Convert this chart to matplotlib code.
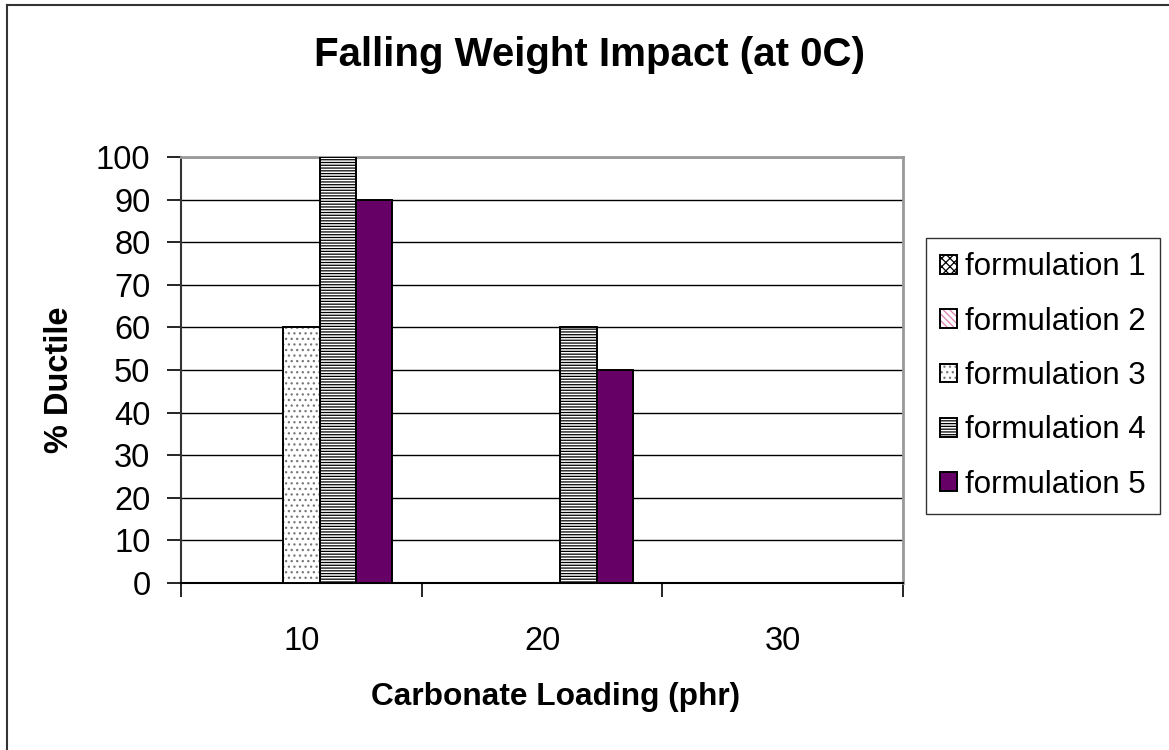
import matplotlib
matplotlib.use('Agg')
import matplotlib.pyplot as plt
from matplotlib.lines import Line2D
import numpy as np

plt.rcParams['font.family'] = ['Liberation Sans', 'DejaVu Sans']
plt.rcParams['hatch.linewidth'] = 0.9

# Data
loadings = ['10', '20', '30']
series_names = ['formulation 1', 'formulation 2', 'formulation 3',
                'formulation 4', 'formulation 5']
f1 = [0, 0, 0]
f2 = [0, 0, 0]
f3 = [60, 0, 0]
f4 = [100, 60, 0]
f5 = [90, 50, 0]
y_ticks = list(range(0, 101, 10))

# styles: (face, hatch, hatch colour)
styles = [
    ('white', 'xxxx', 'black'),
    ('white', '\\\\\\\\\\', '#e07fb0'),
    ('white', '...', '#777777'),
    ('white', '------', 'black'),
    ('#660066', None, '#660066'),
]

fig = plt.figure(figsize=(11.69, 7.5), dpi=100)
ax = fig.add_axes([181 / 1169, 1 - 583 / 750, 722 / 1169, 426 / 750])

x = np.arange(len(loadings))
width = 0.151
handles = []
for i, (name, vals) in enumerate(zip(series_names, [f1, f2, f3, f4, f5])):
    face, hatch, hcol = styles[i]
    pos = x + (i - 2) * width
    # hatch drawn in its own colour, then a black outline on top
    fill = ax.bar(pos, vals, width, color=face, hatch=hatch,
                  edgecolor=hcol, linewidth=0, zorder=3)
    edge = ax.bar(pos, vals, width, fill=False, edgecolor='black',
                  linewidth=1.4, zorder=4)
    handles.append((fill, edge))

ax.set_xlim(-0.5, 2.5)
ax.set_ylim(0, 100)
ax.set_yticks(y_ticks)
ax.set_xticks(x)
ax.set_xticklabels(loadings)
ax.set_xticks([-0.5, 0.5, 1.5, 2.5], minor=True)
ax.tick_params(axis='x', which='major', length=0, labelsize=23.5, pad=31)
ax.tick_params(axis='x', which='minor', length=10, width=1.2, direction='out')
ax.tick_params(axis='y', length=10, width=1.2, direction='out', labelsize=23.5, pad=12)
ax.grid(axis='y', color='black', linewidth=1, zorder=0)
ax.set_axisbelow(True)

for side in ['top', 'right']:
    ax.spines[side].set_color('#999999')
    ax.spines[side].set_linewidth(2)
ax.spines['left'].set_color('#333333')
ax.spines['left'].set_linewidth(1.5)
ax.spines['bottom'].set_linewidth(1.5)

ax.set_xlabel('Carbonate Loading (phr)', fontsize=22.8, fontweight='bold', va='center')
ax.xaxis.set_label_coords(0.519, -0.268)
ax.set_ylabel('% Ductile', fontsize=23.5, fontweight='bold', va='center')
ax.yaxis.set_label_coords(-0.168, 0.476)

fig.text(590 / 1169, 1 - 55 / 750, 'Falling Weight Impact (at 0C)',
         fontsize=29, fontweight='bold', ha='center', va='center')

leg = ax.legend(handles, series_names, loc='center left',
                bbox_to_anchor=(926 / 1169, 1 - 376 / 750),
                bbox_transform=fig.transFigure, fontsize=22.5, frameon=True,
                fancybox=False, borderaxespad=0, handlelength=0.55,
                handleheight=0.55, handletextpad=0.25, labelspacing=0.78,
                borderpad=0.45)
leg.get_frame().set_edgecolor('black')
leg.get_frame().set_linewidth(1)

# chart frame (only left and top edges show)
fig.add_artist(Line2D([7 / 1169, 7 / 1169], [0, 1 - 5 / 750], color='#333333',
                      linewidth=1.5, transform=fig.transFigure))
fig.add_artist(Line2D([7 / 1169, 1], [1 - 5 / 750, 1 - 5 / 750], color='#333333',
                      linewidth=1.5, transform=fig.transFigure))

fig.savefig('out.png', dpi=100)
